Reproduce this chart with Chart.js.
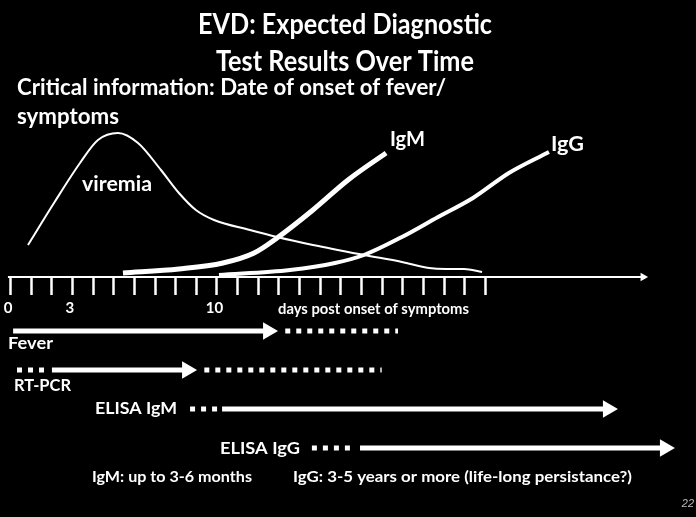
<!DOCTYPE html>
<html>
<head>
<meta charset="utf-8">
<script src="https://cdn.jsdelivr.net/npm/chart.js"></script>
<style>
  html, body { margin: 0; padding: 0; background: #000; }
  #chart { display: block; }
</style>
</head>
<body>
<canvas id="chart" width="696" height="517"></canvas>
<script>
// Curves (days post onset -> relative level above the axis)
const viremiaDays  = [0.87, 2.13, 3.39, 4.26, 5.23, 6.2, 7.31, 8.18, 9.0, 9.88, 11.62, 12.93, 14.67, 17.14, 18.98, 20.29, 21.11, 21.99, 22.86];
const viremiaLevel = [32, 74, 114, 137, 144, 134, 107, 84, 67, 57, 47, 40, 32, 22, 15, 9, 8, 8, 5];
const igmDays  = [5.47, 8.18, 10.31, 11.82, 12.93, 14.67, 16.37, 18.21];
const igmLevel = [4, 8, 14, 24, 39, 67, 97, 124];
const iggDays  = [10.12, 13.56, 15.74, 17.14, 18.98, 20.73, 22.42, 24.16, 26.1];
const iggLevel = [2, 7, 14, 22, 40, 60, 79, 104, 125];

// Axis
const tickDays = [0, 1, 2, 3, 4, 5, 6, 7, 8, 9, 10, 11, 12, 13, 14, 15, 16, 17, 18, 19, 20, 21, 22, 23];
const tickLabelDays = [0, 3, 10];
const tickLabels = ['0', '3', '10'];
const axisEnd = 30.9;

// Test result bars (days)
const testNames      = ['Fever', 'RT-PCR', 'ELISA IgM', 'ELISA IgG'];
const testLane       = [-54, -93, -132, -171];
const testDotStart   = [null, 0.34, 8.72, 14.62];
const testSolidStart = [0.15, 2.03, 10.27, 16.95];
const testArrowTip   = [12.98, 9.06, 29.44, 32.2];
const testDotEnd     = [18.79, 18.0, null, null];

const PX_PER_DAY = 20.65;
const FONT = 'Lato, "Open Sans", sans-serif';

function pts(xs, ys) {
    return xs.map((x, i) => ({ x: x, y: ys[i] }));
}

function seg(x0, x1, y, dashed, width) {
    return {
        data: [{ x: x0, y: y }, { x: x1, y: y }],
        borderColor: '#fff',
        borderWidth: width,
        borderDash: dashed ? [5, 6] : [],
        borderCapStyle: 'butt',
        pointRadius: 0
    };
}

function head(tip, y, r) {
    return {
        data: [{ x: tip - r / PX_PER_DAY, y: y }],
        showLine: false,
        pointStyle: 'triangle',
        pointRotation: 90,
        pointRadius: r,
        pointBackgroundColor: '#fff',
        pointBorderWidth: 0
    };
}

const datasets = [
    {
        data: pts(viremiaDays, viremiaLevel),
        borderColor: '#fff', borderWidth: 2, pointRadius: 0,
        cubicInterpolationMode: 'monotone'
    },
    {
        data: pts(igmDays, igmLevel),
        borderColor: '#fff', borderWidth: 5, pointRadius: 0,
        cubicInterpolationMode: 'monotone'
    },
    {
        data: pts(iggDays, iggLevel),
        borderColor: '#fff', borderWidth: 4, pointRadius: 0,
        cubicInterpolationMode: 'monotone'
    },
    seg(-0.1, axisEnd - 0.3, 0, false, 2),
    head(axisEnd, 0, 5)
];

testNames.forEach((name, i) => {
    const y = testLane[i];
    if (testDotStart[i] !== null) datasets.push(seg(testDotStart[i], testSolidStart[i] - 0.2, y, true, 5));
    datasets.push(seg(testSolidStart[i], testArrowTip[i] - 0.5, y, false, 5));
    datasets.push(head(testArrowTip[i], y, 10));
    if (testDotEnd[i] !== null) datasets.push(seg(testArrowTip[i] + 0.35, testDotEnd[i], y, true, 5));
});

// Text placed on the slide (px); w = width the text is fitted to
const texts = [
    { t: 'EVD: Expected Diagnostic', x: 345, y: 25, size: 28, w: 294, align: 'center' },
    { t: 'Test Results Over Time', x: 345, y: 62, size: 28, w: 258, align: 'center' },
    { t: 'Critical information: Date of onset of fever/', x: 17, y: 88, size: 22, w: 429 },
    { t: 'symptoms', x: 17, y: 117, size: 22, w: 102 },
    { t: 'viremia', x: 82, y: 185, size: 20, w: 70 },
    { t: 'IgM', x: 390, y: 140, size: 20, w: 35 },
    { t: 'IgG', x: 551, y: 145, size: 20, w: 33 },
    { t: 'days post onset of symptoms', x: 278, y: 309, size: 15, w: 191 },
    { t: 'Fever', x: 8, y: 344, size: 17, w: 45 },
    { t: 'RT-PCR', x: 14, y: 386, size: 17, w: 57 },
    { t: 'ELISA IgM', x: 95, y: 409, size: 17, w: 82 },
    { t: 'ELISA IgG', x: 220, y: 449, size: 17, w: 80 },
    { t: 'IgM: up to 3-6 months', x: 92, y: 477, size: 16, w: 160 },
    { t: 'IgG: 3-5 years or more (life-long persistance?)', x: 293, y: 477, size: 16, w: 339 },
    { t: '22', x: 694, y: 504, size: 11, align: 'right', style: 'italic', weight: 'normal', color: '#bbb', font: '"Liberation Sans", Arial, sans-serif' }
];

function drawText(ctx, o) {
    ctx.save();
    ctx.fillStyle = o.color || '#fff';
    ctx.textAlign = o.align || 'left';
    ctx.textBaseline = 'middle';
    ctx.font = (o.style || 'normal') + ' ' + (o.weight || 'bold') + ' ' + o.size + 'px ' + (o.font || FONT);
    const k = o.w ? o.w / ctx.measureText(o.t).width : 1;
    ctx.translate(o.x, o.y);
    ctx.scale(k, 1);
    ctx.fillText(o.t, 0, 0);
    ctx.restore();
}

const slidePlugin = {
    id: 'slide',
    beforeDraw(chart) {
        const ctx = chart.ctx;
        ctx.save();
        ctx.fillStyle = '#000';
        ctx.fillRect(0, 0, chart.width, chart.height);
        ctx.restore();
    },
    afterDatasetsDraw(chart) {
        const ctx = chart.ctx;
        const xs = chart.scales.x, ys = chart.scales.y;
        const y0 = ys.getPixelForValue(0);
        ctx.save();
        ctx.strokeStyle = '#fff';
        ctx.lineWidth = 2.5;
        tickDays.forEach(d => {
            const px = Math.round(xs.getPixelForValue(d)) + 0.5;
            ctx.beginPath();
            ctx.moveTo(px, y0);
            ctx.lineTo(px, y0 + 18);
            ctx.stroke();
        });
        ctx.restore();
        tickLabelDays.forEach((d, i) => {
            drawText(ctx, { t: tickLabels[i], x: xs.getPixelForValue(d) - 2, y: y0 + 31, size: 15, align: 'center' });
        });
        texts.forEach(o => drawText(ctx, o));
    }
};

new Chart(document.getElementById('chart').getContext('2d'), {
    type: 'line',
    data: { datasets: datasets },
    options: {
        responsive: false,
        animation: false,
        devicePixelRatio: 1,
        layout: { padding: 0, autoPadding: false },
        plugins: {
            legend: { display: false },
            tooltip: { enabled: false },
            title: { display: false }
        },
        scales: {
            x: { type: 'linear', display: false, min: -10 / PX_PER_DAY, max: (696 - 10) / PX_PER_DAY },
            y: { type: 'linear', display: false, min: -240, max: 277 }
        }
    },
    plugins: [slidePlugin]
});
</script>
</body>
</html>
